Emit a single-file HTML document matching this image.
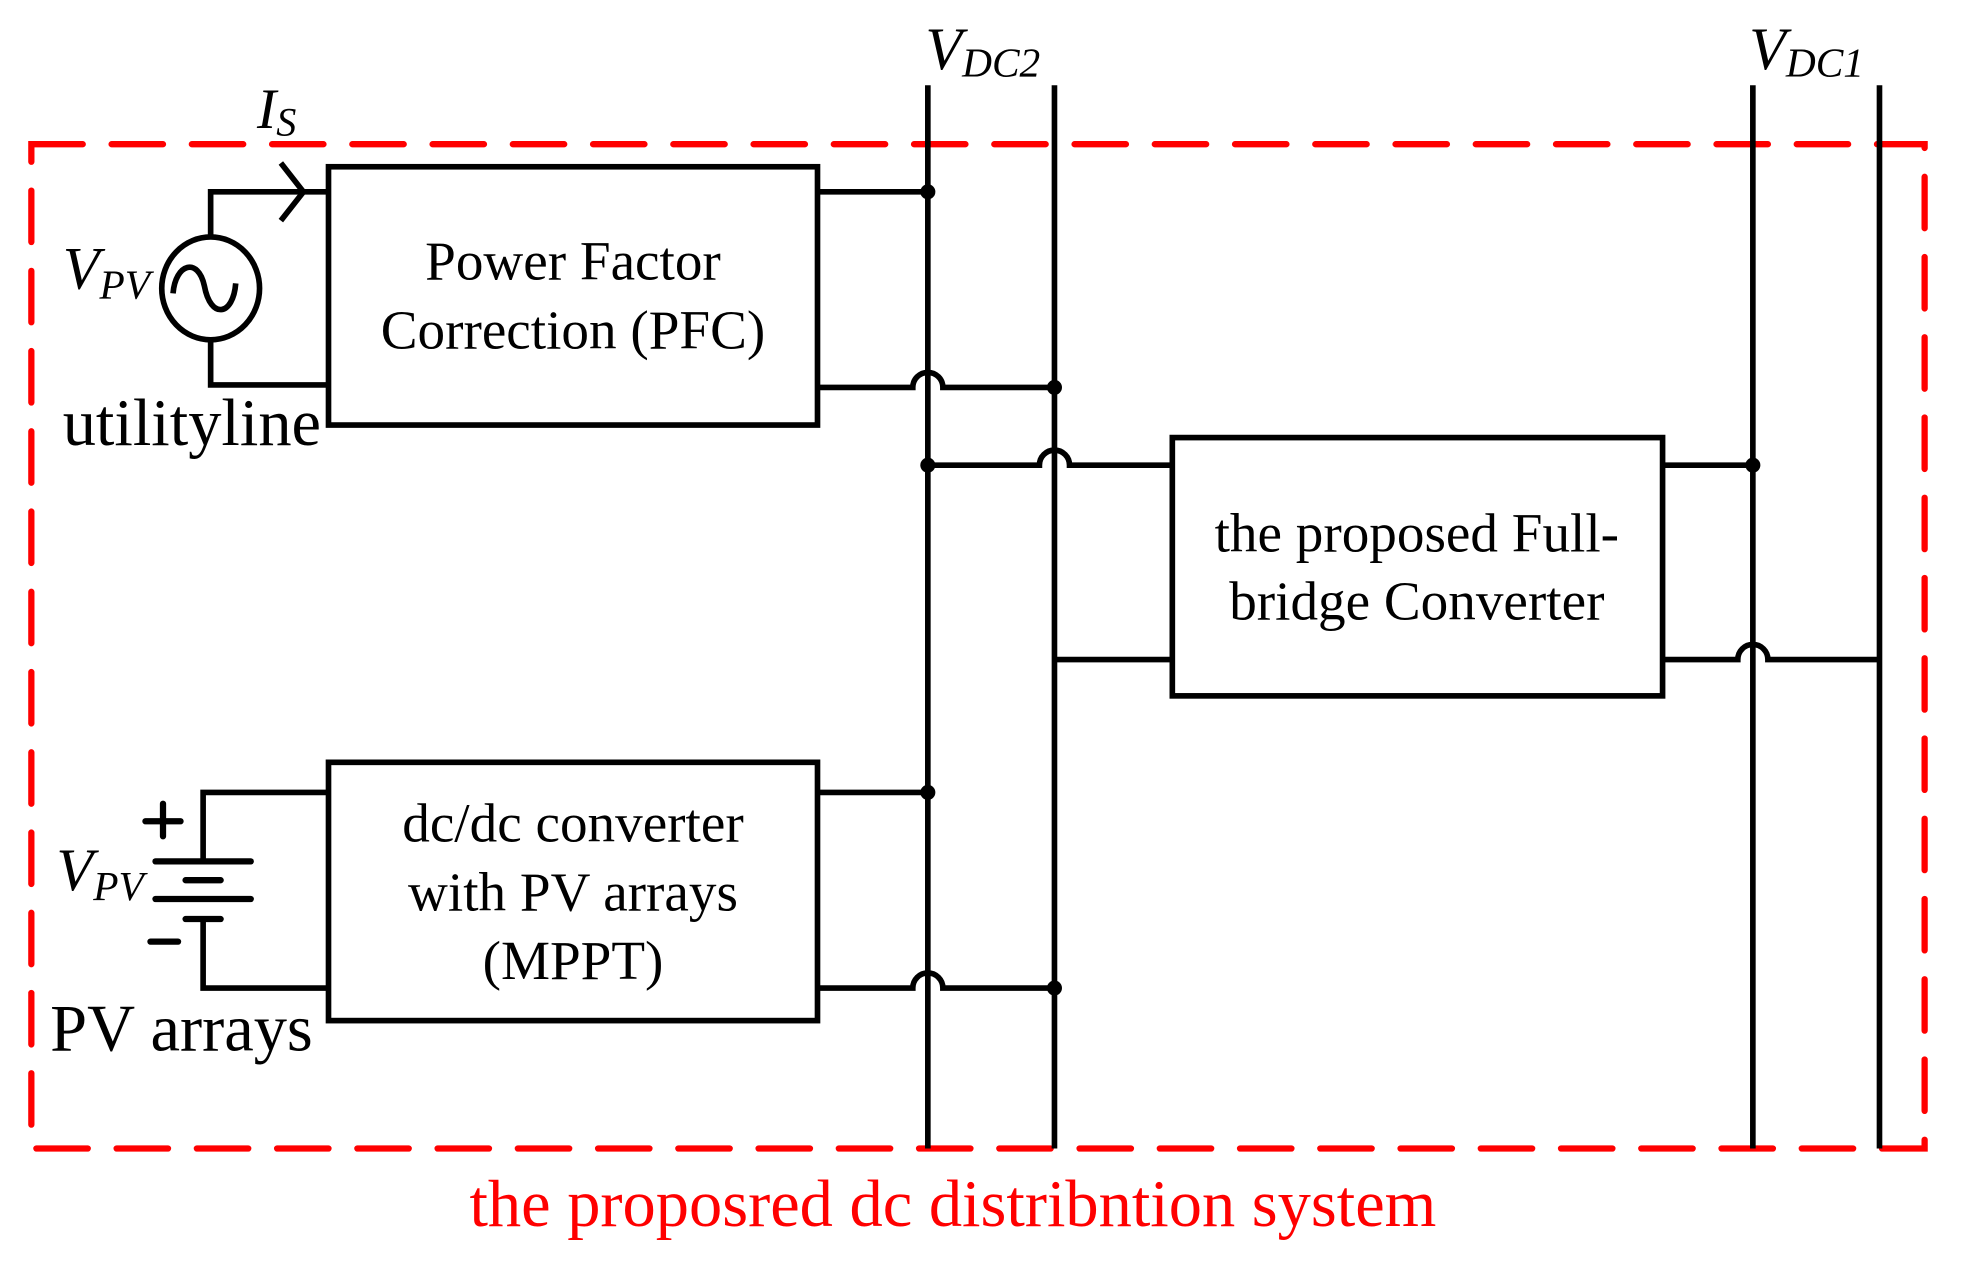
<!DOCTYPE html>
<html><head><meta charset="utf-8"><style>
html,body{margin:0;padding:0;background:#fff;}
svg{display:block;}
text{font-family:"Liberation Serif",serif;}
</style></head><body>
<svg width="1966" height="1272" viewBox="0 0 1568 1014.5" preserveAspectRatio="none" xmlns="http://www.w3.org/2000/svg">
<rect x="25" y="115" width="1510" height="801" fill="none" stroke="#f00" stroke-width="5" stroke-dasharray="41 23" stroke-linecap="round"/>
<g stroke="#000" stroke-width="4.5" fill="none" stroke-linejoin="miter">
<rect x="262" y="133" width="390" height="206"/>
<rect x="935" y="349" width="391" height="206"/>
<rect x="262" y="608" width="390" height="206"/>
<line x1="740" y1="68" x2="740" y2="916"/>
<line x1="841" y1="68" x2="841" y2="916"/>
<line x1="1398" y1="68" x2="1398" y2="916"/>
<line x1="1499" y1="68" x2="1499" y2="916"/>
<ellipse cx="168" cy="230" rx="39" ry="41"/>
<path d="M138 234 C140 210 158 205 163 228 C168 255 186 252 188 226"/>
<polyline points="168,189 168,153 262,153"/>
<polyline points="168,271 168,307 262,307"/>
<polyline points="224,130 242,153 224,176"/>
<line x1="652" y1="153" x2="740" y2="153"/>
<path d="M652 309 H728 A12 12 0 0 1 752 309 H841"/>
<path d="M740 371 H829 A12 12 0 0 1 853 371 H935"/>
<line x1="841" y1="526" x2="935" y2="526"/>
<line x1="1326" y1="371" x2="1398" y2="371"/>
<path d="M1326 526 H1386 A12 12 0 0 1 1410 526 H1499"/>
<line x1="652" y1="632" x2="740" y2="632"/>
<path d="M652 788 H728 A12 12 0 0 1 752 788 H841"/>
<polyline points="162,687 162,632 262,632"/>
<polyline points="162,733 162,788 262,788"/>
<g stroke-linecap="round" stroke-width="5">
<line x1="124" y1="687" x2="200" y2="687"/>
<line x1="148" y1="702" x2="176" y2="702"/>
<line x1="124" y1="717" x2="200" y2="717"/>
<line x1="148" y1="733" x2="176" y2="733"/>
<line x1="116" y1="655" x2="144" y2="655"/>
<line x1="130" y1="641" x2="130" y2="667"/>
<line x1="120" y1="751" x2="142" y2="751"/>
</g>
</g>
<g fill="#000">
<circle cx="740" cy="153" r="6"/>
<circle cx="841" cy="309" r="6"/>
<circle cx="740" cy="371" r="6"/>
<circle cx="1398" cy="371" r="6"/>
<circle cx="740" cy="632" r="6"/>
<circle cx="841" cy="788" r="6"/>
</g>
<g font-size="44" text-anchor="middle" fill="#000">
<text x="457" y="223">Power Factor</text>
<text x="457" y="278">Correction (PFC)</text>
<text x="1130" y="440">the proposed Full-</text>
<text x="1130" y="494">bridge Converter</text>
<text x="457" y="671">dc/dc converter</text>
<text x="457" y="726">with PV arrays</text>
<text x="457" y="781">(MPPT)</text>
</g>
<g fill="#000" font-style="italic">
<text x="205" y="102" font-size="46">I<tspan font-size="32" dy="6">S</tspan></text>
<text x="50" y="230" font-size="48">V<tspan font-size="33" dy="8">PV</tspan></text>
<text x="45" y="710" font-size="48">V<tspan font-size="33" dy="8">PV</tspan></text>
<text x="738" y="55" font-size="48">V<tspan font-size="33" dy="6">DC2</tspan></text>
<text x="1395" y="55" font-size="48">V<tspan font-size="33" dy="6">DC1</tspan></text>
</g>
<text x="50" y="355" font-size="53" fill="#000">utilityline</text>
<text x="40" y="838" font-size="53" fill="#000">PV arrays</text>
<text x="760" y="978" font-size="53" fill="#f00" text-anchor="middle">the proposred dc distribntion system</text>
</svg>
</body></html>
